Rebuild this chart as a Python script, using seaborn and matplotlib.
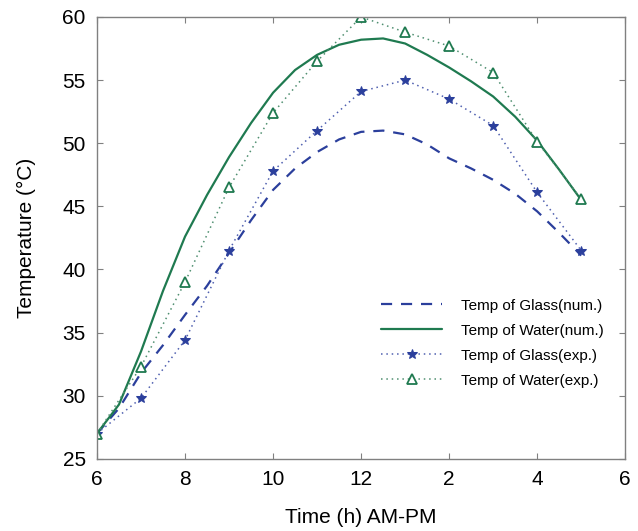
import numpy as np
import pandas as pd
import matplotlib
matplotlib.use('Agg')
import matplotlib.pyplot as plt
import seaborn as sns

# hours of day (6 AM .. 5 PM as 6..17)
hours_exp = [6, 7, 8, 9, 10, 11, 12, 13, 14, 15, 16, 17]
glass_exp = [27.0, 29.8, 34.4, 41.5, 47.8, 51.0, 54.1, 55.0, 53.5, 51.4, 46.1, 41.5]
water_exp = [27.0, 32.3, 39.0, 46.5, 52.4, 56.5, 60.0, 58.8, 57.7, 55.6, 50.1, 45.6]

hours_num = [6, 6.5, 7, 7.5, 8, 8.5, 9, 9.5, 10, 10.5, 11, 11.5,
             12, 12.5, 13, 13.5, 14, 14.5, 15, 15.5, 16, 16.5, 17]
glass_num = [27.0, 29.0, 31.8, 34.0, 36.4, 38.7, 41.3, 43.9, 46.3, 48.0, 49.3, 50.3,
             50.9, 51.0, 50.7, 49.9, 48.8, 48.0, 47.1, 46.0, 44.6, 42.9, 41.1]
water_num = [27.0, 29.3, 33.5, 38.3, 42.6, 45.9, 48.9, 51.6, 54.0, 55.8, 57.0, 57.8,
             58.2, 58.3, 57.9, 57.0, 56.0, 54.9, 53.7, 52.1, 50.2, 47.9, 45.5]

xticks = [6, 8, 10, 12, 14, 16, 18]
xtick_labels = ['6', '8', '10', '12', '2', '4', '6']

blue = '#2b3f9c'
green = '#1f7a50'

sns.set_style('ticks')
plt.rcParams['font.family'] = ['Liberation Sans', 'DejaVu Sans']
plt.rcParams['text.color'] = 'black'
plt.rcParams['axes.labelcolor'] = 'black'
plt.rcParams['xtick.labelcolor'] = 'black'
plt.rcParams['ytick.labelcolor'] = 'black'

fig = plt.figure(figsize=(6.38, 5.31), dpi=100)
ax = fig.add_axes([0.152, 0.136, 0.828, 0.832])

num = pd.DataFrame({'hour': hours_num, 'glass': glass_num, 'water': water_num})
exp = pd.DataFrame({'hour': hours_exp, 'glass': glass_exp, 'water': water_exp})

sns.lineplot(data=num, x='hour', y='glass', ax=ax, color=blue, lw=1.6,
             linestyle=(0, (5, 4)), label='Temp of Glass(num.)')
sns.lineplot(data=num, x='hour', y='water', ax=ax, color=green, lw=1.6,
             label='Temp of Water(num.)')
sns.lineplot(data=exp, x='hour', y='glass', ax=ax, color='#5060b0', lw=1.1,
             linestyle=(0, (1, 2.5)), marker='*', markersize=7,
             markerfacecolor=blue, markeredgecolor=blue, label='Temp of Glass(exp.)')
sns.lineplot(data=exp, x='hour', y='water', ax=ax, color='#4f8f70', lw=1.1,
             linestyle=(0, (1, 2.5)), marker='^', markersize=7,
             markerfacecolor='white', markeredgecolor=green, markeredgewidth=1.3,
             label='Temp of Water(exp.)')

ax.set_xlim(6, 18)
ax.set_ylim(25, 60)
ax.set_xticks(xticks)
ax.set_xticklabels(xtick_labels)
ax.set_yticks([25, 30, 35, 40, 45, 50, 55, 60])
ax.set_xlabel('Time (h) AM-PM', fontsize=15, labelpad=14)
ax.set_ylabel('Temperature (°C)', fontsize=15, labelpad=19)
ax.tick_params(direction='in', length=4, color='#808080', labelsize=15,
               top=True, right=True, pad=8)
for s in ax.spines.values():
    s.set_color('#808080')
    s.set_linewidth(1.0)

leg = ax.legend(loc='lower right', bbox_to_anchor=(0.985, 0.13), frameon=False,
                fontsize=11, handlelength=4.0, handletextpad=1.2, labelspacing=0.72)

fig.savefig('out.png', dpi=100)
